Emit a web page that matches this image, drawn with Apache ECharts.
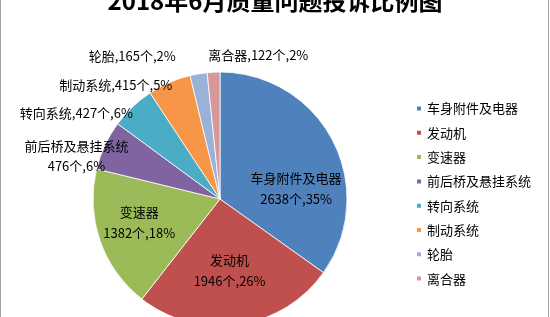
<!DOCTYPE html>
<html><head><meta charset="utf-8">
<script src="https://cdn.jsdelivr.net/npm/echarts@6/dist/echarts.min.js"></script>
<style>html,body{margin:0;padding:0;background:#fff}#c{width:550px;height:317px}</style>
</head><body><div id="c"></div>
<script>
var titleText = '2018年6月质量问题投诉比例图';
var categories = ['车身附件及电器','发动机','变速器','前后桥及悬挂系统','转向系统','制动系统','轮胎','离合器'];
var values = [2638,1946,1382,476,427,415,165,122];
var percents = ['35%','26%','18%','6%','6%','5%','2%','2%'];
var colors = ['#4F81BD','#C0504D','#9BBB59','#8064A2','#4BACC6','#F79646','#9AB1D8','#D79899'];
var font = '"Noto Sans CJK SC", "Microsoft YaHei", sans-serif';

// label offsets (text placement tweaks only)
var labelShift = [
  {dx:17, dy:20},
  {dx:0, dy:6},
  {dx:-18, dy:2},
  {dx:-23, dy:13, align:'center'},
  {dx:13, dy:2},
  {dx:37, dy:-11},
  {dx:18, dy:-25},
  {dx:0, dy:-11, align:'left'}
];

var insideIdx = [0,1,2];
var data = categories.map(function(n,i){
  var inside = insideIdx.indexOf(i) >= 0;
  var d = {name:n, value:values[i], itemStyle:{color:colors[i]}};
  if (inside) {
    d.label = {position:'inside', formatter: n + '\n' + values[i] + '个,' + percents[i], lineHeight:21};
  } else if (n === '前后桥及悬挂系统') {
    d.label = {position:'outside', formatter: n + '\n' + values[i] + '个,' + percents[i], lineHeight:20};
  } else {
    d.label = {position:'outside', formatter: n + ',' + values[i] + '个,' + percents[i]};
  }
  return d;
});

var chart = echarts.init(document.getElementById('c'), null, {renderer:'canvas'});
chart.setOption({
  animation:false,
  backgroundColor:'#fff',
  graphic:[{type:'rect', shape:{x:0.5, y:-5, width:548, height:330}, style:{fill:'none', stroke:'#A0A0A0', lineWidth:1}, silent:true}],
  title:{text:titleText, left:'center', top:-16, textStyle:{fontFamily:font, fontSize:24, fontWeight:'bold', color:'#000'}},
  legend:{orient:'vertical', left:410, top:97, itemWidth:6, itemHeight:6, itemGap:11.3,
    icon:'rect', textStyle:{fontFamily:font, fontSize:13, color:'#000'}, data:categories},
  series:[{
    type:'pie', center:[220,199], radius:[0,127], startAngle:90, clockwise:true,
    itemStyle:{borderColor:'#fff', borderWidth:0.8},
    label:{fontFamily:font, fontSize:13, color:'#000', overflow:'none'},
    labelLine:{show:false, length:6, length2:0},
    labelLayout:function(p){ return labelShift[p.dataIndex] || {}; },
    data:data
  }]
});
</script></body></html>
